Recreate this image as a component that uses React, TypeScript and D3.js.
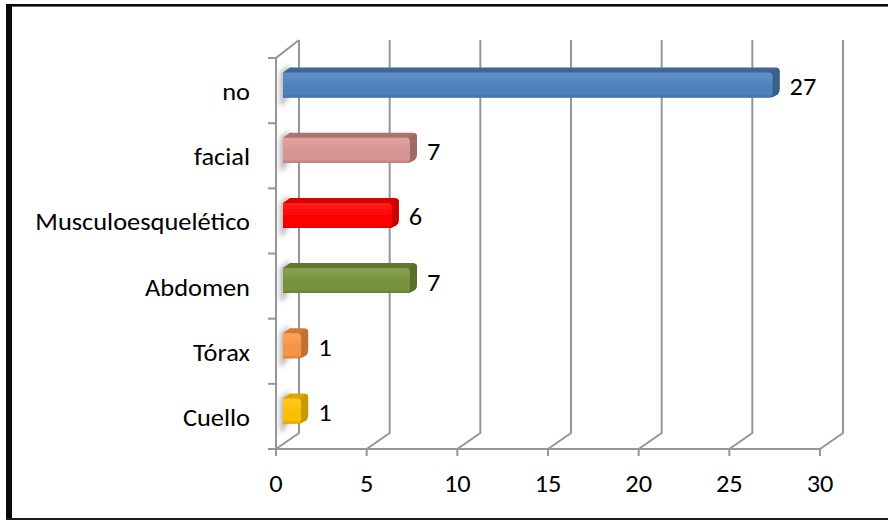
import React from "react";
import * as d3 from "d3";

const categories = ["Cuello", "Tórax", "Abdomen", "Musculoesquelético", "facial", "no"];
const values = [1, 1, 7, 6, 7, 27];
const xTicks = [0, 5, 10, 15, 20, 25, 30];

// front, top and side shades of each bar
const fronts = ["#ffc000", "#f79646", "#77933c", "#ff0000", "#d99694", "#4f81bd"];
const tops = ["#dba600", "#d07a34", "#5f7a2e", "#d80000", "#ab7371", "#3c6595"];
const sides = ["#c99800", "#c4702f", "#587128", "#c80000", "#a06866", "#38608c"];

const W = 888;
const H = 520;
const floorY = 449;
const ceilY = 58;
const backX = 23;
const backFloorY = 433;
const backCeilY = 40;
const depthX = 7;
const depthY = 5;
const barInset = 7;
const barLift = 8;

const x = d3.scaleLinear().domain([0, 30]).range([276, 820]);
const y = d3.scaleBand<string>().domain(categories).range([floorY, ceilY]);

const font = "Carlito, Calibri, Lato, 'Open Sans', sans-serif";
const grid = "#969696";
const labelSize = 24;
const stretch = 1.1;

function Label({ px, py, anchor, children }: { px: number; py: number; anchor: string; children: React.ReactNode }) {
  return (
    <text
      transform={`translate(${px},${py}) scale(${stretch},1)`}
      fontSize={labelSize}
      fill="#000"
      textAnchor={anchor}
    >
      {children}
    </text>
  );
}

export default function App() {
  const bw = y.bandwidth();
  const barH = 30;
  return (
    <svg
      width={W}
      height={H}
      viewBox={`0 0 ${W} ${H}`}
      style={{ position: "absolute", left: 0, top: 0, background: "#fff" }}
      fontFamily={font}
    >
      <defs>
        <filter id="wallShadow" x="-150%" y="-30%" width="400%" height="160%">
          <feGaussianBlur stdDeviation="2.4" />
        </filter>
        <filter id="soft" x="-5%" y="-10%" width="110%" height="120%">
          <feGaussianBlur stdDeviation="0.5" />
        </filter>
        <linearGradient id="sheen" x1="0" x2="0" y1="0" y2="1">
          <stop offset="0" stopColor="#fff" stopOpacity={0.12} />
          <stop offset="0.3" stopColor="#fff" stopOpacity={0.06} />
          <stop offset="0.85" stopColor="#000" stopOpacity={0} />
          <stop offset="1" stopColor="#000" stopOpacity={0.14} />
        </linearGradient>
      </defs>

      {/* frame: heavy left edge, lighter top and bottom, open at the right */}
      <rect x={6} y={4} width={6} height={516} fill="#0a0a0a" />
      <rect x={6} y={4} width={882} height={2.6} fill="#0a0a0a" />
      <rect x={6} y={518} width={882} height={2} fill="#1c1c1c" />

      {/* gridlines with their floor segments */}
      {xTicks.map((t) => (
        <g key={t} stroke={grid} strokeWidth={2} fill="none">
          <path d={`M${x(t)},${floorY} L${x(t) + backX},${backFloorY} V${backCeilY}`} />
          <line x1={x(t)} x2={x(t)} y1={floorY} y2={456} />
        </g>
      ))}

      {/* side wall edge and category axis */}
      <path d={`M${x(0)},${floorY} V${ceilY} L${x(0) + backX},${backCeilY}`} fill="none" stroke={grid} strokeWidth={2} />
      <line x1={x(0)} x2={x(30)} y1={floorY} y2={floorY} stroke={grid} strokeWidth={2} />
      {d3.range(7).map((i) => {
        const ty = floorY - (i * (floorY - ceilY)) / 6;
        return <line key={i} x1={268} x2={x(0)} y1={ty} y2={ty} stroke={grid} strokeWidth={2} />;
      })}

      {/* bars */}
      {categories.map((c, i) => {
        const cy = (y(c) as number) + bw / 2;
        const outerTop = cy - barLift - barH / 2;
        const top = outerTop + depthY;
        const bottom = outerTop + barH;
        const left = x(0) + barInset;
        const right = x(values[i]) + barInset;
        const r = 4;
        const front = `M${left},${top} H${right - r} Q${right},${top} ${right},${top + r} V${bottom - r} Q${right},${bottom} ${right - r},${bottom} H${left} Z`;
        return (
          <g key={c}>
            <path
              d={`M${left + 6},${top - 8} L${left + 6},${bottom - 2} L${left},${bottom + 8} L${left - 3},${bottom + 8} L${left - 3},${top} Z`}
              fill="#777"
              opacity={0.5}
              filter="url(#wallShadow)"
            />
            <g filter="url(#soft)">
              <path
                d={`M${left},${top} L${left + depthX},${outerTop} H${right + depthX - r} Q${right + depthX},${outerTop} ${right + depthX},${outerTop + r} V${bottom - depthY - r} Q${right + depthX},${bottom - depthY} ${right + depthX - 2},${bottom - depthY + 2} L${right - 1},${bottom} H${left} Z`}
                fill={tops[i]}
              />
              <path
                d={`M${right - 1},${top} L${right + depthX - 2},${outerTop + 1} Q${right + depthX},${outerTop + 1} ${right + depthX},${outerTop + r} V${bottom - depthY - r} Q${right + depthX},${bottom - depthY} ${right + depthX - 2},${bottom - depthY + 2} L${right - 1},${bottom} Z`}
                fill={sides[i]}
              />
              <path d={front} fill={fronts[i]} />
              <path d={front} fill="url(#sheen)" />
            </g>
            <Label px={right + depthX + 10} py={cy - barLift + 12.5} anchor="start">
              {values[i]}
            </Label>
            <Label px={250} py={cy + 9.5} anchor="end">
              {c}
            </Label>
          </g>
        );
      })}

      {/* value axis labels */}
      {xTicks.map((t) => (
        <Label key={t} px={x(t)} py={491.5} anchor="middle">
          {t}
        </Label>
      ))}
    </svg>
  );
}
